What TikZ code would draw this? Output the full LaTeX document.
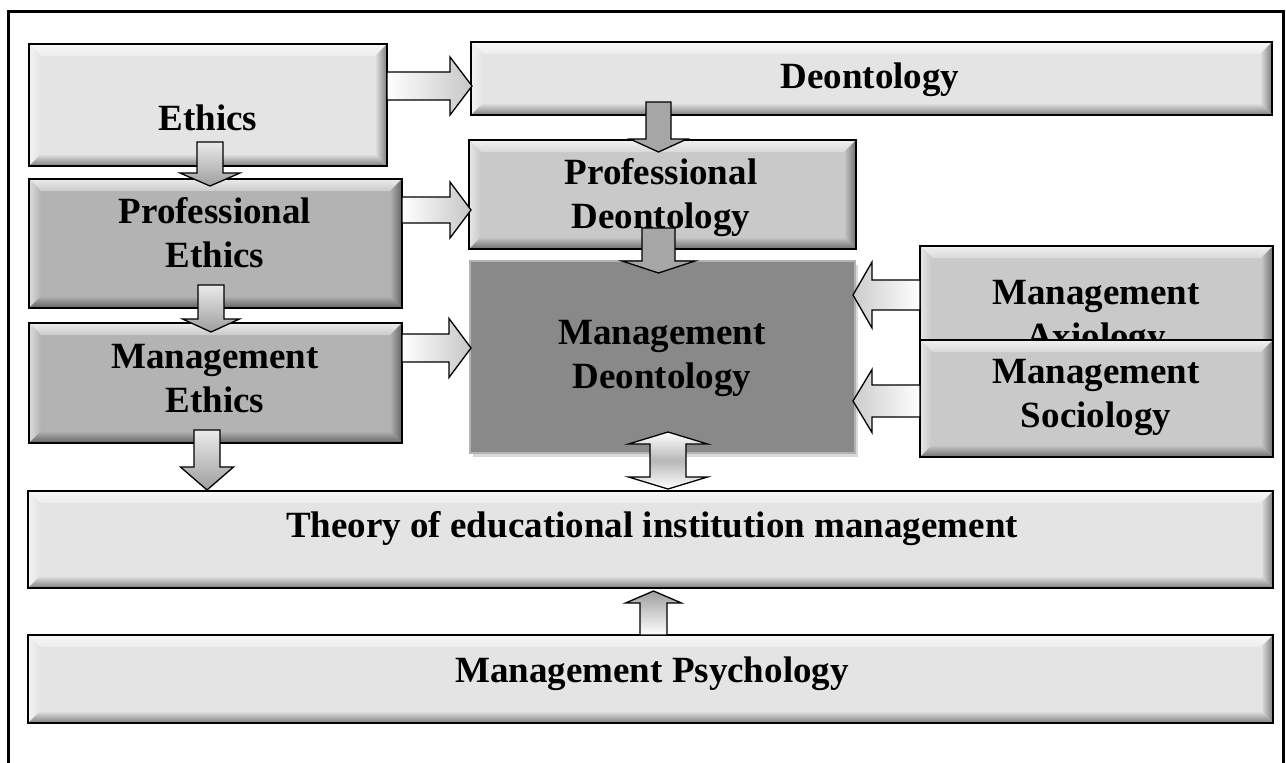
\documentclass[tikz,border=0pt]{standalone}
\usepackage{fontspec}
\setmainfont{Liberation Serif}
\usepackage{tikz}
\usetikzlibrary{positioning,calc,fit,shadows}
\definecolor{ink}{HTML}{000000}
\definecolor{boxlight}{HTML}{E4E4E4}
\definecolor{boxmid}{HTML}{B3B3B3}
\definecolor{boxpale}{HTML}{C9C9C9}
\definecolor{boxdark}{HTML}{898989}
\definecolor{arrowgray}{HTML}{A6A6A6}
\tikzset{
  panel/.style={fill=#1,inner sep=0pt,outer sep=0pt},
  boxtext/.style={font=\bfseries\fontsize{37}{44}\selectfont,align=center,anchor=base,inner sep=0pt},
  blockline/.style={draw=ink,line width=1.3pt,line join=miter},
}

\begin{document}
\begin{tikzpicture}[x=1pt,y=-1pt]
  \useasboundingbox (0,0) rectangle (1286,763);
  \newcommand{\panelbox}[6]{% #1 name, #2 x1, #3 y1, #4 x2, #5 y2, #6 colour
    \node[panel=#6,fit={(#2,#3) (#4,#5)}] (#1) {};
    \shade[top color=#6!25!white,bottom color=#6!70!white] (#1.north west) -- (#1.north east) -- ($(#1.north east)+(-12,12)$) -- ($(#1.north west)+(12,12)$) -- cycle;
    \shade[left color=#6!45!white,right color=#6] (#1.north west) -- ($(#1.north west)+(12,12)$) -- ($(#1.south west)+(12,-12)$) -- (#1.south west) -- cycle;
    \shade[top color=#6,bottom color=#6!55!black] (#1.south west) -- ($(#1.south west)+(12,-12)$) -- ($(#1.south east)+(-12,-12)$) -- (#1.south east) -- cycle;
    \shade[left color=#6,right color=#6!55!black] (#1.north east) -- ($(#1.north east)+(-12,12)$) -- ($(#1.south east)+(-12,-12)$) -- (#1.south east) -- cycle;
    \draw[ink,line width=2.4pt] (#1.north west) rectangle (#1.south east);}
  \newcommand{\blockarrow}[6]{% #1 shading, #2 tail, #3 tip, #4 half shaft, #5 half head, #6 head length
    \path ($(#3)!#6pt!(#2)$) coordinate (hb);
    \draw[blockline,#1] ($(#2)!#4pt!90:(#3)$) -- ($(hb)!#4pt!-90:(#2)$) -- ($(hb)!#5pt!-90:(#2)$) -- (#3)
      -- ($(hb)!#5pt!90:(#2)$) -- ($(hb)!#4pt!90:(#2)$) -- ($(#2)!#4pt!-90:(#3)$) -- cycle;}
  % frame
  \draw[ink,line width=2.7pt] (8.7,775) -- (8.7,11.3) -- (1283.3,11.3) -- (1283.3,775);
  % boxes (text nodes sit on the baseline of their last line)
  \panelbox{ethics}{29}{44}{387}{166}{boxlight}
  \node[boxtext] (ethics-t) at (208,130) {Ethics};
  \panelbox{deon}{471}{42}{1272}{115}{boxlight}
  \node[boxtext] (deon-t) at (870,88) {Deontology};
  \panelbox{profeth}{29}{179}{402}{308}{boxmid}
  \node[boxtext] (profeth-t) at (215,267) {Professional\\Ethics};
  \panelbox{profdeon}{469}{140}{856}{249}{boxpale}
  \node[boxtext] (profdeon-t) at (661,228) {Professional\\Deontology};
  \panelbox{mgmteth}{29}{323}{402}{443}{boxmid}
  \node[boxtext] (mgmteth-t) at (215,412) {Management\\Ethics};
  \node[panel=boxdark,fit={(470,261) (855,453)},draw=black!30,line width=1.2pt,
    drop shadow={opacity=0.3,shadow xshift=3pt,shadow yshift=-4pt}] (mgmtdeon) {};
  \node[boxtext] (mgmtdeon-t) at (662,388) {Management\\Deontology};
  \panelbox{axio}{920}{246}{1273}{400}{boxpale}
  \node[boxtext] (axio-t) at (1096,348) {Management\\Axiology};
  \panelbox{socio}{920}{340}{1273}{457}{boxpale}
  \node[boxtext] (socio-t) at (1096,427) {Management\\Sociology};
  \panelbox{theory}{28}{491}{1273}{588}{boxlight}
  \node[boxtext] (theory-t) at (652,537) {Theory of educational institution management};
  \panelbox{psych}{28}{635}{1273}{723}{boxlight}
  \node[boxtext] (psych-t) at (652,682) {Management Psychology};
  % arrows
  \coordinate (t1) at ($(ethics.east)+(0,-19)$);
  \blockarrow{left color=white,right color=black!22}{t1}{$(t1 -| deon.west)+(1,0)$}{14}{29}{22}
  \coordinate (t2) at ($(profeth.east)+(0,-33.5)$);
  \blockarrow{left color=white,right color=black!22}{t2}{$(t2 -| profdeon.west)+(2,0)$}{13}{28}{21}
  \coordinate (t3) at ($(mgmteth.east)+(0,-35)$);
  \blockarrow{left color=white,right color=black!22}{t3}{$(t3 -| mgmtdeon.west)+(1,0)$}{14}{29.5}{22}
  \coordinate (t4) at ($(ethics.south)+(2,-24)$);
  \blockarrow{top color=black!8,bottom color=black!38}{t4}{$(t4 |- profeth.north)+(0,7)$}{13}{30}{13}
  \coordinate (t5) at ($(profeth.south)+(-4.5,-23)$);
  \blockarrow{top color=black!8,bottom color=black!38}{t5}{$(t5 |- mgmteth.north)+(0,9)$}{13}{28.5}{13}
  \coordinate (t6) at ($(mgmteth.south)+(-8.5,-13)$);
  \blockarrow{top color=black!8,bottom color=black!38}{t6}{$(t6 |- theory.north)+(0,-1)$}{13}{26.5}{23}
  \coordinate (t7) at ($(profdeon.north |- deon.south)+(-4,-13)$);
  \blockarrow{fill=arrowgray}{t7}{$(t7 |- profdeon.north)+(0,12)$}{12.5}{28.5}{13}
  \coordinate (t8) at ($(profdeon.south)+(-4,-21)$);
  \blockarrow{fill=arrowgray}{t8}{$(t8 |- mgmtdeon.north)+(0,12)$}{16.5}{36.5}{12}
  \coordinate (t9) at ($(axio.west)+(0,-28)$);
  \blockarrow{left color=black!20,right color=white}{t9}{$(t9 -| mgmtdeon.east)+(-2,0)$}{15}{33}{19}
  \coordinate (t10) at ($(socio.west)+(0,2.5)$);
  \blockarrow{left color=black!20,right color=white}{t10}{$(t10 -| mgmtdeon.east)+(-2,0)$}{16}{31.5}{19}
  \coordinate (t12) at ($(psych.north)+(3,0)$);
  \blockarrow{top color=black!38,bottom color=white}{t12}{$(t12 |- theory.south)+(0,3)$}{13.5}{28}{12}
  % double arrow
  \coordinate (d1) at ($(mgmtdeon.south)+(5.5,-21)$);
  \coordinate (d2) at ($(d1 |- theory.north)+(0,-2)$);
  \path ($(d1)!12pt!(d2)$) coordinate (hb1) ($(d2)!12pt!(d1)$) coordinate (hb2);
  \draw[blockline,top color=white,bottom color=white,middle color=black!28] (d1) -- ($(hb1)!39.5pt!90:(d1)$) -- ($(hb1)!18pt!90:(d1)$)
    -- ($(hb2)!18pt!-90:(d2)$) -- ($(hb2)!39.5pt!-90:(d2)$) -- (d2) -- ($(hb2)!39.5pt!90:(d2)$) -- ($(hb2)!18pt!90:(d2)$)
    -- ($(hb1)!18pt!-90:(d1)$) -- ($(hb1)!39.5pt!-90:(d1)$) -- cycle;
\end{tikzpicture}
\end{document}
